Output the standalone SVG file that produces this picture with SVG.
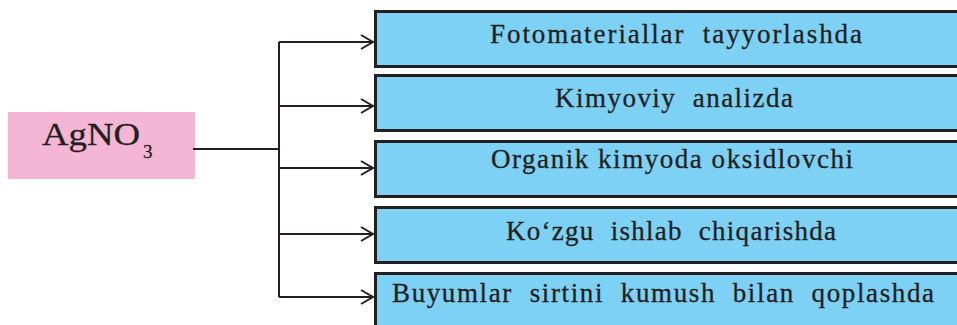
<svg xmlns="http://www.w3.org/2000/svg" width="957" height="325" viewBox="0 0 957 325">
<defs>
<style>
.box{fill:#7dd1f5;stroke:#231f20;stroke-width:3}
.t{font-family:"Liberation Serif","Times New Roman",serif;font-size:27px;fill:#231f20;stroke:#231f20;stroke-width:0.3;white-space:pre}
.c{fill:none;stroke:#231f20;stroke-width:2}
</style>
<marker id="ah" markerWidth="16" markerHeight="16" refX="14" refY="8" orient="auto" markerUnits="userSpaceOnUse">
<path d="M2,1 L14,8 L2,15" fill="none" stroke="#231f20" stroke-width="2"/>
</marker>
</defs>
<rect width="957" height="325" fill="#ffffff"/>
<g id="agno3">
<rect x="8" y="112" width="187" height="67" fill="#f5b6d5"/>
<text class="t" x="42" y="145" style="font-size:32px" textLength="98" lengthAdjust="spacingAndGlyphs">AgNO</text>
<text class="t" x="143" y="158" style="font-size:19px">3</text>
</g>
<g id="connectors">
<path class="c" d="M193,149 H279 M279,42 V297"/>
<path class="c" d="M279,42 H373" marker-end="url(#ah)"/>
<path class="c" d="M279,106 H373" marker-end="url(#ah)"/>
<path class="c" d="M279,168 H373" marker-end="url(#ah)"/>
<path class="c" d="M279,234 H373" marker-end="url(#ah)"/>
<path class="c" d="M279,297 H373" marker-end="url(#ah)"/>
</g>
<g id="n1">
<rect class="box" x="375.5" y="11.5" width="600" height="55"/>
<text class="t" x="490" y="43" textLength="372" lengthAdjust="spacing" xml:space="preserve">Fotomateriallar  tayyorlashda</text>
</g>
<g id="n2">
<rect class="box" x="375.5" y="75.5" width="600" height="55"/>
<text class="t" x="555" y="107" textLength="238" lengthAdjust="spacing" xml:space="preserve">Kimyoviy  analizda</text>
</g>
<g id="n3">
<rect class="box" x="375.5" y="141.5" width="600" height="55"/>
<text class="t" x="491" y="168" textLength="362" lengthAdjust="spacing">Organik kimyoda oksidlovchi</text>
</g>
<g id="n4">
<rect class="box" x="375.5" y="207.5" width="600" height="55"/>
<text class="t" x="506" y="240" textLength="330" lengthAdjust="spacing" xml:space="preserve">Ko‘zgu  ishlab  chiqarishda</text>
</g>
<g id="n5">
<rect class="box" x="375.5" y="273.5" width="600" height="60"/>
<text class="t" x="392" y="302" textLength="542" lengthAdjust="spacing" xml:space="preserve">Buyumlar  sirtini  kumush  bilan  qoplashda</text>
</g>
</svg>
